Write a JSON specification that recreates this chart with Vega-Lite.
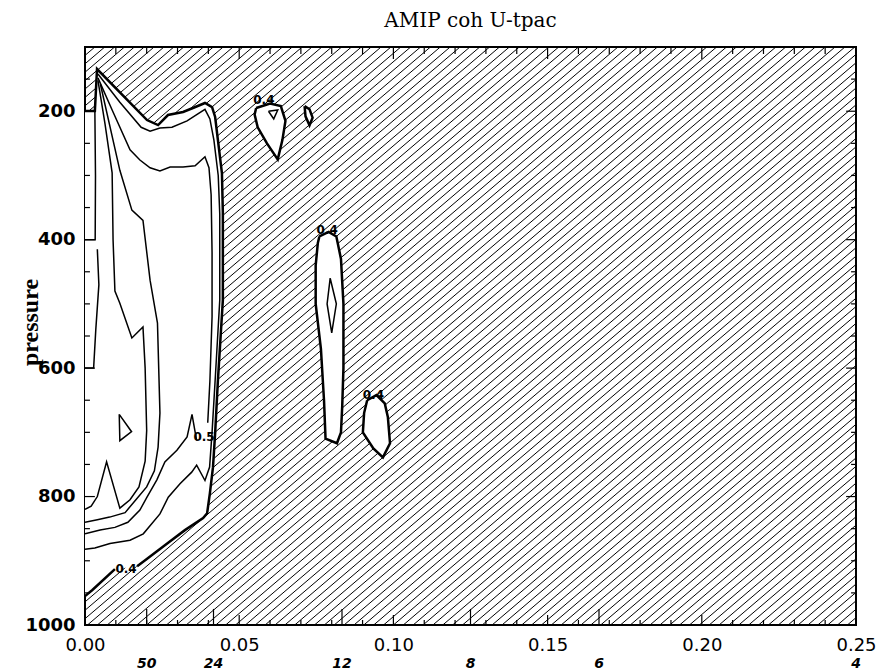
{
  "$schema": "https://vega.github.io/schema/vega-lite/v6.json",
  "width": 771,
  "height": 578,
  "autosize": {"type": "none"},
  "padding": {"left": 85, "top": 47, "right": 28, "bottom": 47},
  "background": "white",
  "title": {"text": "AMIP coh U-tpac", "font": "DejaVu Serif", "fontSize": 20, "fontWeight": "normal", "color": "black", "offset": -1, "anchor": "middle", "frame": "group", "baseline": "alphabetic"},
  "config": {"view": {"stroke": "black", "strokeWidth": 2}},
  "datasets": {
    "hatch": [
      {"a":-0.22,"b":0},{"a":-0.2168,"b":0.0032},{"a":-0.2136,"b":0.0064},{"a":-0.2104,"b":0.0096},{"a":-0.2072,"b":0.0128},{"a":-0.204,"b":0.016},{"a":-0.2008,"b":0.0192},{"a":-0.1976,"b":0.0224},{"a":-0.1944,"b":0.0256},{"a":-0.1912,"b":0.0288},
      {"a":-0.188,"b":0.032},{"a":-0.1848,"b":0.0352},{"a":-0.1816,"b":0.0384},{"a":-0.1784,"b":0.0416},{"a":-0.1752,"b":0.0448},{"a":-0.172,"b":0.048},{"a":-0.1688,"b":0.0512},{"a":-0.1656,"b":0.0544},{"a":-0.1624,"b":0.0576},{"a":-0.1592,"b":0.0608},
      {"a":-0.156,"b":0.064},{"a":-0.1528,"b":0.0672},{"a":-0.1496,"b":0.0704},{"a":-0.1464,"b":0.0736},{"a":-0.1432,"b":0.0768},{"a":-0.14,"b":0.08},{"a":-0.1368,"b":0.0832},{"a":-0.1336,"b":0.0864},{"a":-0.1304,"b":0.0896},{"a":-0.1272,"b":0.0928},
      {"a":-0.124,"b":0.096},{"a":-0.1208,"b":0.0992},{"a":-0.1176,"b":0.1024},{"a":-0.1144,"b":0.1056},{"a":-0.1112,"b":0.1088},{"a":-0.108,"b":0.112},{"a":-0.1048,"b":0.1152},{"a":-0.1016,"b":0.1184},{"a":-0.0984,"b":0.1216},{"a":-0.0952,"b":0.1248},
      {"a":-0.092,"b":0.128},{"a":-0.0888,"b":0.1312},{"a":-0.0856,"b":0.1344},{"a":-0.0824,"b":0.1376},{"a":-0.0792,"b":0.1408},{"a":-0.076,"b":0.144},{"a":-0.0728,"b":0.1472},{"a":-0.0696,"b":0.1504},{"a":-0.0664,"b":0.1536},{"a":-0.0632,"b":0.1568},
      {"a":-0.06,"b":0.16},{"a":-0.0568,"b":0.1632},{"a":-0.0536,"b":0.1664},{"a":-0.0504,"b":0.1696},{"a":-0.0472,"b":0.1728},{"a":-0.044,"b":0.176},{"a":-0.0408,"b":0.1792},{"a":-0.0376,"b":0.1824},{"a":-0.0344,"b":0.1856},{"a":-0.0312,"b":0.1888},
      {"a":-0.028,"b":0.192},{"a":-0.0248,"b":0.1952},{"a":-0.0216,"b":0.1984},{"a":-0.0184,"b":0.2016},{"a":-0.0152,"b":0.2048},{"a":-0.012,"b":0.208},{"a":-0.0088,"b":0.2112},{"a":-0.0056,"b":0.2144},{"a":-0.0024,"b":0.2176},{"a":0.0008,"b":0.2208},
      {"a":0.004,"b":0.224},{"a":0.0072,"b":0.2272},{"a":0.0104,"b":0.2304},{"a":0.0136,"b":0.2336},{"a":0.0168,"b":0.2368},{"a":0.02,"b":0.24},{"a":0.0232,"b":0.2432},{"a":0.0264,"b":0.2464},{"a":0.0296,"b":0.2496},{"a":0.0328,"b":0.2528},
      {"a":0.036,"b":0.256},{"a":0.0392,"b":0.2592},{"a":0.0424,"b":0.2624},{"a":0.0456,"b":0.2656},{"a":0.0488,"b":0.2688},{"a":0.052,"b":0.272},{"a":0.0552,"b":0.2752},{"a":0.0584,"b":0.2784},{"a":0.0616,"b":0.2816},{"a":0.0648,"b":0.2848},
      {"a":0.068,"b":0.288},{"a":0.0712,"b":0.2912},{"a":0.0744,"b":0.2944},{"a":0.0776,"b":0.2976},{"a":0.0808,"b":0.3008},{"a":0.084,"b":0.304},{"a":0.0872,"b":0.3072},{"a":0.0904,"b":0.3104},{"a":0.0936,"b":0.3136},{"a":0.0968,"b":0.3168},
      {"a":0.1,"b":0.32},{"a":0.1032,"b":0.3232},{"a":0.1064,"b":0.3264},{"a":0.1096,"b":0.3296},{"a":0.1128,"b":0.3328},{"a":0.116,"b":0.336},{"a":0.1192,"b":0.3392},{"a":0.1224,"b":0.3424},{"a":0.1256,"b":0.3456},{"a":0.1288,"b":0.3488},
      {"a":0.132,"b":0.352},{"a":0.1352,"b":0.3552},{"a":0.1384,"b":0.3584},{"a":0.1416,"b":0.3616},{"a":0.1448,"b":0.3648},{"a":0.148,"b":0.368},{"a":0.1512,"b":0.3712},{"a":0.1544,"b":0.3744},{"a":0.1576,"b":0.3776},{"a":0.1608,"b":0.3808},
      {"a":0.164,"b":0.384},{"a":0.1672,"b":0.3872},{"a":0.1704,"b":0.3904},{"a":0.1736,"b":0.3936},{"a":0.1768,"b":0.3968},{"a":0.18,"b":0.4},{"a":0.1832,"b":0.4032},{"a":0.1864,"b":0.4064},{"a":0.1896,"b":0.4096},{"a":0.1928,"b":0.4128},
      {"a":0.196,"b":0.416},{"a":0.1992,"b":0.4192},{"a":0.2024,"b":0.4224},{"a":0.2056,"b":0.4256},{"a":0.2088,"b":0.4288},{"a":0.212,"b":0.432},{"a":0.2152,"b":0.4352},{"a":0.2184,"b":0.4384},{"a":0.2216,"b":0.4416},{"a":0.2248,"b":0.4448},
      {"a":0.228,"b":0.448},{"a":0.2312,"b":0.4512},{"a":0.2344,"b":0.4544},{"a":0.2376,"b":0.4576},{"a":0.2408,"b":0.4608},{"a":0.244,"b":0.464},{"a":0.2472,"b":0.4672},{"a":0.2504,"b":0.4704}
    ],
    "shapes": [
      {"c":"W","i":0,"x":0,"p":199.7},{"c":"W","i":1,"x":0.0032,"p":199.7},{"c":"W","i":2,"x":0.0039,"p":134.3},{"c":"W","i":3,"x":0.0201,"p":213.7},{"c":"W","i":4,"x":0.0237,"p":221.5},{"c":"W","i":5,"x":0.0269,"p":205.9},{"c":"W","i":6,"x":0.0318,"p":201.2},{"c":"W","i":7,"x":0.035,"p":195},{"c":"W","i":8,"x":0.0389,"p":187.2},{"c":"W","i":9,"x":0.0412,"p":193.5},{"c":"W","i":10,"x":0.0422,"p":209},{"c":"W","i":11,"x":0.0431,"p":244.9},{"c":"W","i":12,"x":0.0444,"p":296.3},{"c":"W","i":13,"x":0.0447,"p":358.6},{"c":"W","i":14,"x":0.0447,"p":494.1},{"c":"W","i":15,"x":0.0431,"p":618.7},{"c":"W","i":16,"x":0.0422,"p":701.2},{"c":"W","i":17,"x":0.0415,"p":754.2},{"c":"W","i":18,"x":0.0405,"p":794.7},{"c":"W","i":19,"x":0.0396,"p":825.9},{"c":"W","i":20,"x":0.0383,"p":833.6},{"c":"W","i":21,"x":0.0324,"p":852.3},{"c":"W","i":22,"x":0.0259,"p":875.7},{"c":"W","i":23,"x":0.0195,"p":899.1},{"c":"W","i":24,"x":0.0169,"p":908.4},{"c":"W","i":25,"x":0.0097,"p":913.1},{"c":"W","i":26,"x":0.0023,"p":945.8},{"c":"W","i":27,"x":0,"p":955.1},
      {"c":"I1","i":0,"x":0.0555,"p":195},{"c":"I1","i":1,"x":0.06,"p":188},{"c":"I1","i":2,"x":0.0635,"p":192},{"c":"I1","i":3,"x":0.065,"p":215},{"c":"I1","i":4,"x":0.064,"p":245},{"c":"I1","i":5,"x":0.0625,"p":275},{"c":"I1","i":6,"x":0.059,"p":250},{"c":"I1","i":7,"x":0.056,"p":225},{"c":"I1","i":8,"x":0.055,"p":205},
      {"c":"I2","i":0,"x":0.0712,"p":192},{"c":"I2","i":1,"x":0.0728,"p":197},{"c":"I2","i":2,"x":0.0738,"p":210},{"c":"I2","i":3,"x":0.0728,"p":222},{"c":"I2","i":4,"x":0.0715,"p":208},
      {"c":"I3","i":0,"x":0.076,"p":395},{"c":"I3","i":1,"x":0.079,"p":388},{"c":"I3","i":2,"x":0.0815,"p":395},{"c":"I3","i":3,"x":0.083,"p":430},{"c":"I3","i":4,"x":0.0838,"p":500},{"c":"I3","i":5,"x":0.0838,"p":600},{"c":"I3","i":6,"x":0.0834,"p":660},{"c":"I3","i":7,"x":0.083,"p":700},{"c":"I3","i":8,"x":0.0817,"p":717},{"c":"I3","i":9,"x":0.078,"p":710},{"c":"I3","i":10,"x":0.0775,"p":650},{"c":"I3","i":11,"x":0.0765,"p":570},{"c":"I3","i":12,"x":0.0748,"p":500},{"c":"I3","i":13,"x":0.0748,"p":440},{"c":"I3","i":14,"x":0.0755,"p":405},
      {"c":"I4","i":0,"x":0.0915,"p":650},{"c":"I4","i":1,"x":0.0945,"p":642},{"c":"I4","i":2,"x":0.0972,"p":655},{"c":"I4","i":3,"x":0.0982,"p":676},{"c":"I4","i":4,"x":0.0989,"p":717},{"c":"I4","i":5,"x":0.0966,"p":739},{"c":"I4","i":6,"x":0.0935,"p":725},{"c":"I4","i":7,"x":0.0901,"p":700},{"c":"I4","i":8,"x":0.0905,"p":670}
    ],
    "bold": [
      {"c":"O1","i":0,"x":0,"p":199.7},{"c":"O1","i":1,"x":0.0032,"p":199.7},{"c":"O1","i":2,"x":0.0039,"p":134.3},{"c":"O1","i":3,"x":0.0201,"p":213.7},{"c":"O1","i":4,"x":0.0237,"p":221.5},{"c":"O1","i":5,"x":0.0269,"p":205.9},{"c":"O1","i":6,"x":0.0318,"p":201.2},{"c":"O1","i":7,"x":0.035,"p":195},{"c":"O1","i":8,"x":0.0389,"p":187.2},{"c":"O1","i":9,"x":0.0412,"p":193.5},{"c":"O1","i":10,"x":0.0422,"p":209},{"c":"O1","i":11,"x":0.0431,"p":244.9},{"c":"O1","i":12,"x":0.0444,"p":296.3},{"c":"O1","i":13,"x":0.0447,"p":358.6},{"c":"O1","i":14,"x":0.0447,"p":494.1},{"c":"O1","i":15,"x":0.0431,"p":618.7},{"c":"O1","i":16,"x":0.0422,"p":701.2},{"c":"O1","i":17,"x":0.0415,"p":754.2},{"c":"O1","i":18,"x":0.0405,"p":794.7},{"c":"O1","i":19,"x":0.0396,"p":825.9},{"c":"O1","i":20,"x":0.0383,"p":833.6},{"c":"O1","i":21,"x":0.0324,"p":852.3},{"c":"O1","i":22,"x":0.0259,"p":875.7},{"c":"O1","i":23,"x":0.0195,"p":899.1},{"c":"O1","i":24,"x":0.0169,"p":908.4},
      {"c":"O2","i":0,"x":0.0097,"p":913.1},{"c":"O2","i":1,"x":0.0023,"p":945.8},{"c":"O2","i":2,"x":0,"p":955.1},
      {"c":"I1","i":0,"x":0.0555,"p":195},{"c":"I1","i":1,"x":0.06,"p":188},{"c":"I1","i":2,"x":0.0635,"p":192},{"c":"I1","i":3,"x":0.065,"p":215},{"c":"I1","i":4,"x":0.064,"p":245},{"c":"I1","i":5,"x":0.0625,"p":275},{"c":"I1","i":6,"x":0.059,"p":250},{"c":"I1","i":7,"x":0.056,"p":225},{"c":"I1","i":8,"x":0.055,"p":205},{"c":"I1","i":9,"x":0.0555,"p":195},
      {"c":"I2","i":0,"x":0.0712,"p":192},{"c":"I2","i":1,"x":0.0728,"p":197},{"c":"I2","i":2,"x":0.0738,"p":210},{"c":"I2","i":3,"x":0.0728,"p":222},{"c":"I2","i":4,"x":0.0715,"p":208},{"c":"I2","i":5,"x":0.0712,"p":192},
      {"c":"I3","i":0,"x":0.076,"p":395},{"c":"I3","i":1,"x":0.079,"p":388},{"c":"I3","i":2,"x":0.0815,"p":395},{"c":"I3","i":3,"x":0.083,"p":430},{"c":"I3","i":4,"x":0.0838,"p":500},{"c":"I3","i":5,"x":0.0838,"p":600},{"c":"I3","i":6,"x":0.0834,"p":660},{"c":"I3","i":7,"x":0.083,"p":700},{"c":"I3","i":8,"x":0.0817,"p":717},{"c":"I3","i":9,"x":0.078,"p":710},{"c":"I3","i":10,"x":0.0775,"p":650},{"c":"I3","i":11,"x":0.0765,"p":570},{"c":"I3","i":12,"x":0.0748,"p":500},{"c":"I3","i":13,"x":0.0748,"p":440},{"c":"I3","i":14,"x":0.0755,"p":405},{"c":"I3","i":15,"x":0.076,"p":395},
      {"c":"I4","i":0,"x":0.0915,"p":650},{"c":"I4","i":1,"x":0.0945,"p":642},{"c":"I4","i":2,"x":0.0972,"p":655},{"c":"I4","i":3,"x":0.0982,"p":676},{"c":"I4","i":4,"x":0.0989,"p":717},{"c":"I4","i":5,"x":0.0966,"p":739},{"c":"I4","i":6,"x":0.0935,"p":725},{"c":"I4","i":7,"x":0.0901,"p":700},{"c":"I4","i":8,"x":0.0905,"p":670},{"c":"I4","i":9,"x":0.0915,"p":650}
    ],
    "thin": [
      {"c":"B","i":0,"x":0.0042,"p":142},{"c":"B","i":1,"x":0.0113,"p":186},{"c":"B","i":2,"x":0.0182,"p":225},{"c":"B","i":3,"x":0.0211,"p":231},{"c":"B","i":4,"x":0.0243,"p":226},{"c":"B","i":5,"x":0.0282,"p":225},{"c":"B","i":6,"x":0.0331,"p":215},{"c":"B","i":7,"x":0.0366,"p":204},{"c":"B","i":8,"x":0.0389,"p":197},{"c":"B","i":9,"x":0.0405,"p":212},{"c":"B","i":10,"x":0.0418,"p":245},{"c":"B","i":11,"x":0.0432,"p":300},{"c":"B","i":12,"x":0.0437,"p":360},{"c":"B","i":13,"x":0.0437,"p":494},{"c":"B","i":14,"x":0.0422,"p":619},{"c":"B","i":15,"x":0.0412,"p":700},{"c":"B","i":16,"x":0.0404,"p":754},{"c":"B","i":17,"x":0.0389,"p":775},{"c":"B","i":18,"x":0.0362,"p":751},{"c":"B","i":19,"x":0.0346,"p":762},{"c":"B","i":20,"x":0.0308,"p":780},{"c":"B","i":21,"x":0.027,"p":801},{"c":"B","i":22,"x":0.0243,"p":827},{"c":"B","i":23,"x":0.0189,"p":858},{"c":"B","i":24,"x":0.0146,"p":868},{"c":"B","i":25,"x":0.0081,"p":873},{"c":"B","i":26,"x":0.0032,"p":880},{"c":"B","i":27,"x":0,"p":882},
      {"c":"C","i":0,"x":0.0042,"p":148},{"c":"C","i":1,"x":0.0088,"p":198},{"c":"C","i":2,"x":0.0146,"p":260},{"c":"C","i":3,"x":0.0178,"p":276},{"c":"C","i":4,"x":0.0211,"p":288},{"c":"C","i":5,"x":0.0243,"p":293},{"c":"C","i":6,"x":0.0276,"p":287},{"c":"C","i":7,"x":0.0318,"p":287},{"c":"C","i":8,"x":0.0357,"p":285},{"c":"C","i":9,"x":0.0389,"p":271},{"c":"C","i":10,"x":0.0402,"p":288},{"c":"C","i":11,"x":0.0409,"p":330},{"c":"C","i":12,"x":0.0412,"p":420},{"c":"C","i":13,"x":0.0412,"p":520},{"c":"C","i":14,"x":0.0405,"p":620},{"c":"C","i":15,"x":0.0398,"p":685},
      {"c":"C2","i":0,"x":0.0362,"p":713},{"c":"C2","i":1,"x":0.0347,"p":672},{"c":"C2","i":2,"x":0.0331,"p":707},{"c":"C2","i":3,"x":0.0298,"p":728},{"c":"C2","i":4,"x":0.0259,"p":746},{"c":"C2","i":5,"x":0.0233,"p":774},{"c":"C2","i":6,"x":0.0201,"p":801},{"c":"C2","i":7,"x":0.0178,"p":821},{"c":"C2","i":8,"x":0.0139,"p":840},{"c":"C2","i":9,"x":0.0097,"p":848},{"c":"C2","i":10,"x":0.0049,"p":852},{"c":"C2","i":11,"x":0,"p":858},
      {"c":"V1","i":0,"x":0.0042,"p":152},{"c":"V1","i":1,"x":0.0065,"p":220},{"c":"V1","i":2,"x":0.0088,"p":296},{"c":"V1","i":3,"x":0.0091,"p":400},{"c":"V1","i":4,"x":0.0097,"p":480},{"c":"V1","i":5,"x":0.0113,"p":499},{"c":"V1","i":6,"x":0.0152,"p":553},{"c":"V1","i":7,"x":0.0188,"p":536},{"c":"V1","i":8,"x":0.0195,"p":600},{"c":"V1","i":9,"x":0.02,"p":697},{"c":"V1","i":10,"x":0.0195,"p":745},{"c":"V1","i":11,"x":0.0175,"p":785},{"c":"V1","i":12,"x":0.0146,"p":805},{"c":"V1","i":13,"x":0.0113,"p":818},{"c":"V1","i":14,"x":0.007,"p":746},{"c":"V1","i":15,"x":0.004,"p":800},{"c":"V1","i":16,"x":0.002,"p":815},{"c":"V1","i":17,"x":0,"p":820},
      {"c":"V2","i":0,"x":0.005,"p":158},{"c":"V2","i":1,"x":0.0113,"p":292},{"c":"V2","i":2,"x":0.0152,"p":354},{"c":"V2","i":3,"x":0.0188,"p":370},{"c":"V2","i":4,"x":0.0211,"p":463},{"c":"V2","i":5,"x":0.0235,"p":530},{"c":"V2","i":6,"x":0.0243,"p":670},{"c":"V2","i":7,"x":0.0237,"p":723},{"c":"V2","i":8,"x":0.0225,"p":760},{"c":"V2","i":9,"x":0.02,"p":785},{"c":"V2","i":10,"x":0.0165,"p":805},{"c":"V2","i":11,"x":0.013,"p":825},{"c":"V2","i":12,"x":0.008,"p":832},{"c":"V2","i":13,"x":0.004,"p":836},{"c":"V2","i":14,"x":0,"p":840},
      {"c":"T","i":0,"x":0.0111,"p":672},{"c":"T","i":1,"x":0.0151,"p":699},{"c":"T","i":2,"x":0.0113,"p":713},{"c":"T","i":3,"x":0.0111,"p":672},
      {"c":"ST1","i":0,"x":0.0032,"p":199.7},{"c":"ST1","i":1,"x":0.0034,"p":300},{"c":"ST1","i":2,"x":0.0033,"p":400},{"c":"ST1","i":3,"x":0,"p":400},
      {"c":"ST2","i":0,"x":0.004,"p":415},{"c":"ST2","i":1,"x":0.0045,"p":470},{"c":"ST2","i":2,"x":0.0035,"p":540},{"c":"ST2","i":3,"x":0.0028,"p":600},{"c":"ST2","i":4,"x":0,"p":600},
      {"c":"I1b","i":0,"x":0.0595,"p":200},{"c":"I1b","i":1,"x":0.0625,"p":198},{"c":"I1b","i":2,"x":0.0612,"p":212},{"c":"I1b","i":3,"x":0.0595,"p":200},
      {"c":"I3b","i":0,"x":0.0795,"p":460},{"c":"I3b","i":1,"x":0.0815,"p":500},{"c":"I3b","i":2,"x":0.08,"p":545},{"c":"I3b","i":3,"x":0.0785,"p":500},{"c":"I3b","i":4,"x":0.0795,"p":460}
    ],
    "clabels": [
      {"x":0.058,"p":183,"t":"0.4"},{"x":0.0785,"p":385,"t":"0.4"},{"x":0.0935,"p":642,"t":"0.4"},{"x":0.0386,"p":707,"t":"0.5"},{"x":0.0133,"p":913,"t":"0.4"}
    ],
    "xminor": [{"v":0.01},{"v":0.02},{"v":0.03},{"v":0.04},{"v":0.06},{"v":0.07},{"v":0.08},{"v":0.09},{"v":0.11},{"v":0.12},{"v":0.13},{"v":0.14},{"v":0.16},{"v":0.17},{"v":0.18},{"v":0.19},{"v":0.21},{"v":0.22},{"v":0.23},{"v":0.24}],
    "xmajor": [{"v":0.05},{"v":0.1},{"v":0.15},{"v":0.2}],
    "periods": [{"v":0.02,"t":"50"},{"v":0.041667,"t":"24"},{"v":0.083333,"t":"12"},{"v":0.125,"t":"8"},{"v":0.166667,"t":"6"},{"v":0.25,"t":"4"}],
    "yminor": [{"v":150},{"v":250},{"v":300},{"v":350},{"v":450},{"v":500},{"v":550},{"v":650},{"v":700},{"v":750},{"v":850},{"v":900},{"v":950}],
    "ymajor": [{"v":200},{"v":400},{"v":600},{"v":800}]
  },
  "layer": [
    {
      "data": {"name": "hatch"},
      "mark": {"type": "rule", "clip": true, "color": "black", "strokeWidth": 1},
      "encoding": {
        "x": {"field": "a", "type": "quantitative",
              "scale": {"domain": [0, 0.25], "nice": false, "zero": false},
              "axis": {"title": null, "values": [0, 0.05, 0.1, 0.15, 0.2, 0.25], "format": ".2f", "ticks": false, "domain": false, "grid": false, "labelFont": "DejaVu Sans", "labelFontSize": 18, "labelColor": "black", "labelPadding": 11, "labelFlush": false}},
        "x2": {"field": "b"},
        "y": {"datum": 1000, "type": "quantitative",
              "scale": {"domain": [100, 1000], "reverse": true, "nice": false, "zero": false},
              "axis": {"title": "pressure", "values": [200, 400, 600, 800, 1000], "format": "d", "ticks": false, "domain": false, "grid": false, "labelFont": "DejaVu Sans", "labelFontSize": 18, "labelFontWeight": "bold", "labelColor": "black", "labelPadding": 10, "titleFont": "Liberation Serif", "titleFontSize": 24, "titleFontWeight": "bold", "titleColor": "black", "titleAngle": -90, "titleX": -55, "titleY": 275, "titleAlign": "center", "titleBaseline": "middle"}},
        "y2": {"datum": 100}
      }
    },
    {
      "data": {"name": "shapes"},
      "mark": {"type": "line", "fill": "white", "stroke": "white", "strokeWidth": 0, "clip": true},
      "encoding": {
        "x": {"field": "x", "type": "quantitative"},
        "y": {"field": "p", "type": "quantitative"},
        "detail": {"field": "c", "type": "nominal"},
        "order": {"field": "i", "type": "quantitative"}
      }
    },
    {
      "data": {"name": "thin"},
      "mark": {"type": "line", "color": "black", "strokeWidth": 1.5, "clip": true},
      "encoding": {
        "x": {"field": "x", "type": "quantitative"},
        "y": {"field": "p", "type": "quantitative"},
        "detail": {"field": "c", "type": "nominal"},
        "order": {"field": "i", "type": "quantitative"}
      }
    },
    {
      "data": {"name": "bold"},
      "mark": {"type": "line", "color": "black", "strokeWidth": 2.5, "clip": true},
      "encoding": {
        "x": {"field": "x", "type": "quantitative"},
        "y": {"field": "p", "type": "quantitative"},
        "detail": {"field": "c", "type": "nominal"},
        "order": {"field": "i", "type": "quantitative"}
      }
    },
    {
      "data": {"name": "xminor"},
      "mark": {"type": "rule", "color": "black", "strokeWidth": 1.2},
      "encoding": {"x": {"field": "v", "type": "quantitative"}, "y": {"datum": 1000, "type": "quantitative"}, "y2": {"datum": 992.2}}
    },
    {
      "data": {"name": "xminor"},
      "mark": {"type": "rule", "color": "black", "strokeWidth": 1.2},
      "encoding": {"x": {"field": "v", "type": "quantitative"}, "y": {"datum": 100, "type": "quantitative"}, "y2": {"datum": 110.9}}
    },
    {
      "data": {"name": "xmajor"},
      "mark": {"type": "rule", "color": "black", "strokeWidth": 1.2},
      "encoding": {"x": {"field": "v", "type": "quantitative"}, "y": {"datum": 1000, "type": "quantitative"}, "y2": {"datum": 984.4}}
    },
    {
      "data": {"name": "xmajor"},
      "mark": {"type": "rule", "color": "black", "strokeWidth": 1.2},
      "encoding": {"x": {"field": "v", "type": "quantitative"}, "y": {"datum": 100, "type": "quantitative"}, "y2": {"datum": 118.7}}
    },
    {
      "data": {"name": "periods"},
      "mark": {"type": "rule", "color": "black", "strokeWidth": 1.2},
      "encoding": {"x": {"field": "v", "type": "quantitative"}, "y": {"datum": 1000, "type": "quantitative"}, "y2": {"datum": 975}}
    },
    {
      "data": {"name": "yminor"},
      "mark": {"type": "rule", "color": "black", "strokeWidth": 1.2},
      "encoding": {"y": {"field": "v", "type": "quantitative"}, "x": {"datum": 0, "type": "quantitative"}, "x2": {"datum": 0.0016}}
    },
    {
      "data": {"name": "yminor"},
      "mark": {"type": "rule", "color": "black", "strokeWidth": 1.2},
      "encoding": {"y": {"field": "v", "type": "quantitative"}, "x": {"datum": 0.25, "type": "quantitative"}, "x2": {"datum": 0.2484}}
    },
    {
      "data": {"name": "ymajor"},
      "mark": {"type": "rule", "color": "black", "strokeWidth": 1.2},
      "encoding": {"y": {"field": "v", "type": "quantitative"}, "x": {"datum": 0, "type": "quantitative"}, "x2": {"datum": 0.0032}}
    },
    {
      "data": {"name": "ymajor"},
      "mark": {"type": "rule", "color": "black", "strokeWidth": 1.2},
      "encoding": {"y": {"field": "v", "type": "quantitative"}, "x": {"datum": 0.25, "type": "quantitative"}, "x2": {"datum": 0.2468}}
    },
    {
      "data": {"name": "clabels"},
      "mark": {"type": "text", "font": "DejaVu Sans", "fontWeight": "bold", "fontSize": 12, "color": "black", "align": "center", "baseline": "middle"},
      "encoding": {"x": {"field": "x", "type": "quantitative"}, "y": {"field": "p", "type": "quantitative"}, "text": {"field": "t"}}
    },
    {
      "data": {"name": "periods"},
      "mark": {"type": "text", "font": "DejaVu Sans", "fontWeight": "bold", "fontStyle": "italic", "fontSize": 14, "color": "black", "align": "center", "baseline": "middle", "dy": 39},
      "encoding": {"x": {"field": "v", "type": "quantitative"}, "y": {"datum": 1000, "type": "quantitative"}, "text": {"field": "t"}}
    }
  ]
}
